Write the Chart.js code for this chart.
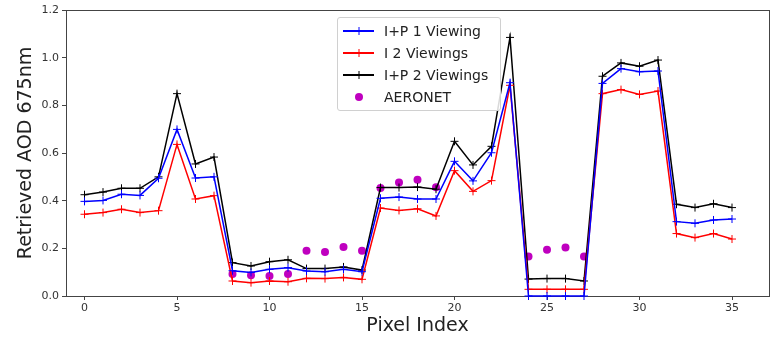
<!DOCTYPE html>
<html lang="en">
<head>
  <meta charset="UTF-8"/>
  <title>Retrieved AOD 675nm</title>
  <script src="https://cdn.jsdelivr.net/npm/chart.js"></script>
  <style>
    body { margin: 0; background: #fff; }
    .wrap { position: relative; width: 774px; height: 337px; }
    .legend {
      position: absolute; left: 337px; top: 17px; width: 162px; height: 92px;
      border: 1px solid #d0d0d0; border-radius: 3px; background: rgba(255,255,255,0.85);
      font-family: "DejaVu Sans", sans-serif; font-size: 14px; color: #222;
    }
    .legend .row { position: absolute; left: 0; height: 20px; display: flex; align-items: center; }
    .legend .sample { position: relative; width: 31px; height: 20px; margin-left: 5px; margin-right: 10px; }
    .legend .line { position: absolute; left: 0; right: 0; top: 9px; height: 2px; }
    .legend .plus { position: absolute; left: 12px; top: 6px; width: 8px; height: 8px; }
    .legend .dot { position: absolute; left: 12px; top: 6px; width: 8px; height: 8px; border-radius: 50%; background: #bf00bf; }
  </style>
</head>
<body>
  <div class="wrap">
    <canvas id="chart" width="774" height="337"></canvas>
    <div class="legend" id="legend"></div>
  </div>
  <script>
    const pixelIndex = [];
    for (let i = 0; i <= 35; i++) pixelIndex.push(i);

    const ip1Viewing = [0.397, 0.401, 0.427, 0.422, 0.494, 0.699, 0.495, 0.500, 0.106, 0.099, 0.112, 0.119,
      0.105, 0.102, 0.112, 0.102, 0.410, 0.415, 0.407, 0.407, 0.565, 0.483, 0.601, 0.895,
      0.0, 0.0, 0.0, 0.0, 0.892, 0.954, 0.941, 0.944, 0.312, 0.305, 0.319, 0.323];
    const i2Viewings = [0.343, 0.350, 0.364, 0.350, 0.358, 0.636, 0.407, 0.421, 0.063, 0.056, 0.063, 0.060,
      0.074, 0.073, 0.078, 0.070, 0.369, 0.359, 0.366, 0.336, 0.526, 0.439, 0.484, 0.884,
      0.028, 0.028, 0.028, 0.028, 0.849, 0.866, 0.846, 0.860, 0.262, 0.245, 0.262, 0.239];
    const ip2Viewings = [0.425, 0.436, 0.452, 0.452, 0.500, 0.849, 0.554, 0.583, 0.140, 0.126, 0.144, 0.152,
      0.115, 0.115, 0.122, 0.109, 0.455, 0.455, 0.457, 0.448, 0.649, 0.550, 0.628, 1.085,
      0.071, 0.073, 0.073, 0.063, 0.922, 0.978, 0.964, 0.990, 0.385, 0.371, 0.387, 0.371];

    const aeronetIndex = [8, 9, 10, 11, 12, 13, 14, 15, 16, 17, 18, 19, 24, 25, 26, 27];
    const aeronetAOD = [0.092, 0.087, 0.084, 0.092, 0.190, 0.185, 0.206, 0.190, 0.453, 0.476, 0.488, 0.456,
      0.166, 0.194, 0.203, 0.166];

    const xTicks = [0, 5, 10, 15, 20, 25, 30, 35];
    const yTicks = [0.0, 0.2, 0.4, 0.6, 0.8, 1.0, 1.2];

    const series = [
      { label: 'I+P 1 Viewing', color: '#0000ff', values: ip1Viewing },
      { label: 'I 2 Viewings', color: '#ff0000', values: i2Viewings },
      { label: 'I+P 2 Viewings', color: '#000000', values: ip2Viewings }
    ];

    const datasets = series.map(s => ({
      label: s.label,
      data: pixelIndex.map((x, i) => ({ x: x, y: s.values[i] })),
      borderColor: s.color,
      backgroundColor: s.color,
      borderWidth: 1.5,
      pointStyle: 'cross',
      pointRadius: 4,
      pointBorderWidth: 1,
      pointBorderColor: s.color,
      showLine: true,
      tension: 0,
      clip: false
    }));
    datasets.push({
      label: 'AERONET',
      data: aeronetIndex.map((x, i) => ({ x: x, y: aeronetAOD[i] })),
      showLine: false,
      pointStyle: 'circle',
      pointRadius: 4,
      borderWidth: 0,
      backgroundColor: '#bf00bf',
      borderColor: '#bf00bf'
    });

    // box around the plot area, like matplotlib spines (drawn under the lines)
    const frame = {
      id: 'frame',
      beforeDatasetsDraw(chart) {
        const a = chart.chartArea, c = chart.ctx;
        c.save();
        c.strokeStyle = '#444';
        c.lineWidth = 1;
        c.strokeRect(Math.round(a.left) + 0.5, Math.round(a.top) + 0.5,
          Math.round(a.right - a.left), Math.round(a.bottom - a.top));
        c.restore();
      }
    };

    const tickFont = { family: 'DejaVu Sans', size: 11 };

    new Chart(document.getElementById('chart'), {
      type: 'scatter',
      data: { datasets },
      options: {
        responsive: false,
        animation: false,
        layout: { padding: { top: 10, right: 4, left: 0, bottom: 0 } },
        plugins: { legend: { display: false }, tooltip: { enabled: false } },
        scales: {
          x: {
            type: 'linear', min: -1, max: 37,
            afterBuildTicks: ax => { ax.ticks = xTicks.map(v => ({ value: v })); },
            afterFit: ax => { ax.height = 41; },
            ticks: { font: tickFont, color: '#333', padding: 2, maxRotation: 0 },
            grid: { drawOnChartArea: false, drawTicks: true, tickLength: 4, color: '#444' },
            border: { color: '#444' },
            title: { display: true, text: 'Pixel Index', font: { family: 'DejaVu Sans', size: 19 }, color: '#222', padding: { top: 1, bottom: 0 } }
          },
          y: {
            min: 0, max: 1.2,
            afterBuildTicks: ax => { ax.ticks = yTicks.map(v => ({ value: v })); },
            afterFit: ax => { ax.width = 66; },
            ticks: { font: tickFont, color: '#333', padding: 3, callback: v => v.toFixed(1) },
            grid: { drawOnChartArea: false, drawTicks: true, tickLength: 4, color: '#444' },
            border: { color: '#444' },
            title: { display: true, text: 'Retrieved AOD 675nm', font: { family: 'DejaVu Sans', size: 19 }, color: '#222', padding: { top: 15, bottom: 4 } }
          }
        }
      },
      plugins: [frame]
    });

    // legend drawn as html over the plot, upper middle
    const legend = document.getElementById('legend');
    const rows = series.map(s => ({ label: s.label, color: s.color, kind: 'line' }))
      .concat([{ label: 'AERONET', color: '#bf00bf', kind: 'dot' }]);
    rows.forEach((r, i) => {
      const row = document.createElement('div');
      row.className = 'row';
      row.style.top = (3 + i * 22) + 'px';
      let sample = '<div class="sample">';
      if (r.kind === 'line') {
        sample += '<div class="line" style="background:' + r.color + '"></div>' +
          '<svg class="plus" viewBox="0 0 8 8"><path d="M4 0V8M0 4H8" stroke="' + r.color + '" stroke-width="1"/></svg>';
      } else {
        sample += '<div class="dot"></div>';
      }
      sample += '</div>';
      row.innerHTML = sample + '<span>' + r.label + '</span>';
      legend.appendChild(row);
    });
  </script>
</body>
</html>
